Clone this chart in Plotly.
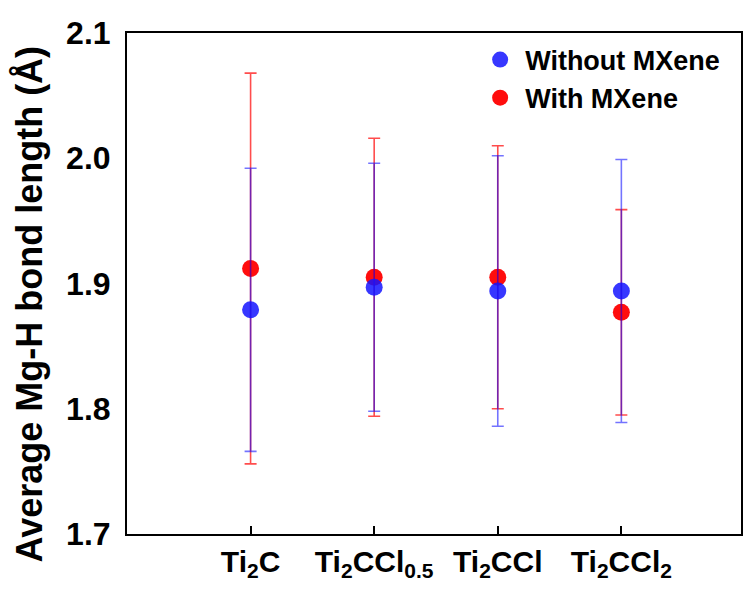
import plotly.graph_objects as go

categories = ["Ti<sub>2</sub>C", "Ti<sub>2</sub>CCl<sub>0.5</sub>", "Ti<sub>2</sub>CCl", "Ti<sub>2</sub>CCl<sub>2</sub>"]
without_mean = [1.879, 1.897, 1.894, 1.894]
without_err = [0.113, 0.099, 0.108, 0.105]
with_mean = [1.912, 1.905, 1.905, 1.877]
with_err = [0.156, 0.111, 0.105, 0.082]
y_ticks = [1.7, 1.8, 1.9, 2.0, 2.1]
y_title = "Average Mg-H bond length (Å)"

xpos = list(range(len(categories)))

fig = go.Figure()
fig.add_trace(go.Scatter(
    x=xpos, y=with_mean, mode="markers", name="With MXene", legendrank=2,
    marker=dict(color="rgba(255,0,0,0.95)", size=17),
    error_y=dict(type="data", array=with_err, visible=True,
                 color="rgba(255,0,0,0.7)", thickness=1.6, width=6),
))
fig.add_trace(go.Scatter(
    x=xpos, y=without_mean, mode="markers", name="Without MXene", legendrank=1,
    marker=dict(color="rgba(20,20,255,0.85)", size=17),
    error_y=dict(type="data", array=without_err, visible=True,
                 color="rgba(0,0,255,0.55)", thickness=1.6, width=6),
))

fig.update_layout(
    width=745, height=590,
    margin=dict(l=127, r=2, t=33, b=56),
    paper_bgcolor="white", plot_bgcolor="white",
    font=dict(family="Liberation Sans, Arial, sans-serif", color="black"),
    showlegend=True,
    legend=dict(x=0.567, y=0.995, xanchor="left", yanchor="top",
                bgcolor="rgba(0,0,0,0)",
                font=dict(size=27, weight="bold"),
                itemwidth=40, tracegroupgap=0),
    annotations=[dict(
        text=y_title, textangle=-90, showarrow=False,
        xref="paper", yref="paper", x=-0.158, y=0.46,
        xanchor="center", yanchor="middle",
        font=dict(size=36, weight="bold"),
    )],
)
fig.update_xaxes(
    range=[-1.0, 3.968],
    tickvals=xpos, ticktext=categories,
    tickfont=dict(size=30, weight="bold"),
    ticks="inside", ticklen=8, tickwidth=2, tickcolor="black",
    showline=True, linecolor="black", linewidth=2, mirror=True,
    showgrid=False, zeroline=False,
)
fig.update_yaxes(
    range=[1.7, 2.1],
    tickvals=y_ticks, ticktext=[f"{v:.1f}" for v in y_ticks],
    tickfont=dict(size=32, weight="bold"),
    ticks="", ticklabelstandoff=8,
    showline=True, linecolor="black", linewidth=2, mirror=True,
    showgrid=False, zeroline=False,
)

fig.write_html("out.html")
